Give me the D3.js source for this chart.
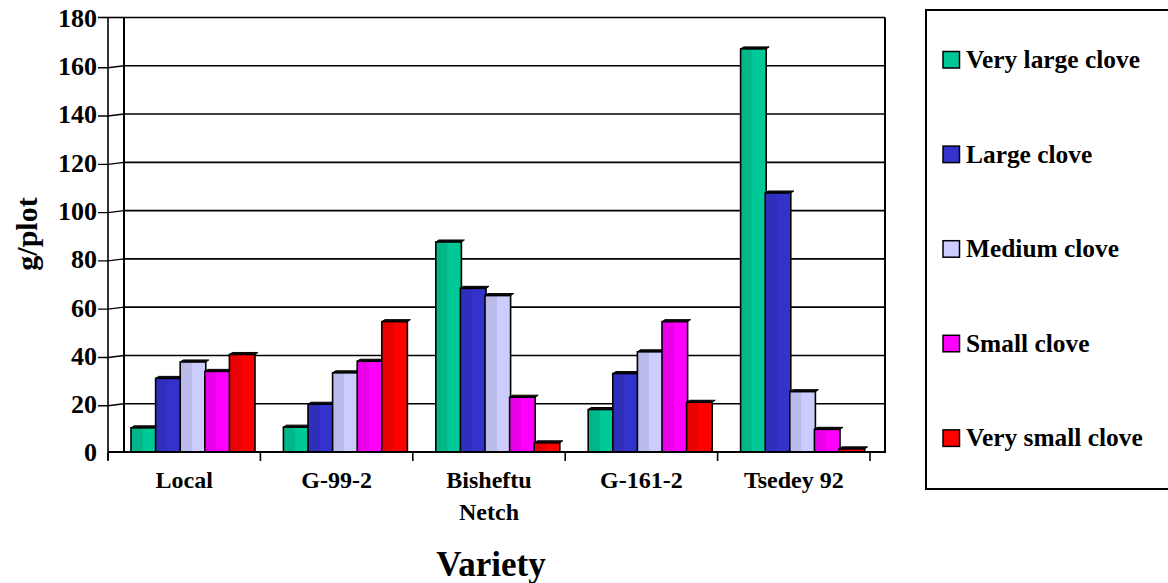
<!DOCTYPE html>
<html>
<head>
<meta charset="utf-8">
<script src="https://cdn.jsdelivr.net/npm/d3@7"></script>
<style>
  html, body { margin: 0; padding: 0; background: #fff; }
  svg { display: block; }
</style>
</head>
<body>
<svg id="chart" width="1168" height="583" font-family="Liberation Serif, serif" font-weight="bold"></svg>
<script>
const categories = ["Local", "G-99-2", "Bisheftu Netch", "G-161-2", "Tsedey 92"];
const seriesNames = ["Very large clove", "Large clove", "Medium clove", "Small clove", "Very small clove"];
const seriesColors = ["#00C896", "#3333CC", "#CCCCFF", "#FF00FF", "#FF0000"];
const veryLarge = [10, 10.3, 87, 17.6, 167];
const large = [30.5, 19.8, 67.8, 32.5, 107.3];
const medium = [37.3, 32.8, 64.8, 41.5, 25];
const small = [33.4, 37.6, 22.7, 54, 9.4];
const verySmall = [40.4, 54, 3.8, 20.6, 1.3];
const yTicks = [0, 20, 40, 60, 80, 100, 120, 140, 160, 180];

const seriesValues = [veryLarge, large, medium, small, verySmall];
const FONT = "Liberation Serif";

const svg = d3.select("#chart");
const frontLeft = 108, frontRight = 870, depthX = 16, depthY = 2;
const plotTop = 17.5, plotBottom = 452;

const x = d3.scaleBand().domain(categories).range([frontLeft, frontRight]).padding(0);
const xi = d3.scaleBand().domain(seriesNames).range([23, 146]).padding(0);
const y = d3.scaleLinear().domain([0, 180]).range([plotBottom, plotTop]);

// gradients
const defs = svg.append("defs");
seriesColors.forEach((c, i) => {
  const g = defs.append("linearGradient").attr("id", "g" + i).attr("x1", 0).attr("x2", 1).attr("y1", 0).attr("y2", 0);
  const dark = d3.color(c).darker(0.25);
  g.append("stop").attr("offset", "0%").attr("stop-color", dark);
  g.append("stop").attr("offset", "45%").attr("stop-color", dark);
  g.append("stop").attr("offset", "46%").attr("stop-color", c);
  g.append("stop").attr("offset", "100%").attr("stop-color", c);
});

// back wall gridlines
svg.append("g").selectAll("line").data(yTicks.filter(d => d > 0)).join("line")
  .attr("x1", frontLeft + depthX).attr("x2", frontRight + depthX - 1)
  .attr("y1", d => y(d)).attr("y2", d => y(d))
  .attr("stroke", "#000").attr("stroke-width", 1.6);

// left wall vertical and right border
svg.append("line").attr("x1", frontLeft + depthX).attr("x2", frontLeft + depthX)
  .attr("y1", plotTop).attr("y2", plotBottom).attr("stroke", "#000").attr("stroke-width", 2);
svg.append("line").attr("x1", frontRight + depthX - 1).attr("x2", frontRight + depthX - 1)
  .attr("y1", plotTop).attr("y2", plotBottom).attr("stroke", "#000").attr("stroke-width", 2);
// front vertical axis
svg.append("line").attr("x1", frontLeft).attr("x2", frontLeft)
  .attr("y1", plotTop).attr("y2", plotBottom + 8).attr("stroke", "#000").attr("stroke-width", 1.6);
// top line extension
svg.append("line").attr("x1", 98).attr("x2", frontLeft + depthX)
  .attr("y1", plotTop).attr("y2", plotTop).attr("stroke", "#000").attr("stroke-width", 1.6);

// y ticks (front) with slant to the wall
svg.append("g").selectAll("path").data(yTicks.filter(d => d > 0 && d < 180)).join("path")
  .attr("d", d => `M98,${y(d) + depthY}L${frontLeft},${y(d) + depthY}L${frontLeft + depthX},${y(d)}`)
  .attr("fill", "none").attr("stroke", "#000").attr("stroke-width", 1.4);

// bars
const groups = svg.append("g").selectAll("g").data(categories).join("g")
  .attr("transform", d => `translate(${x(d)},0)`);
seriesNames.forEach((s, si) => {
  groups.each(function(cat, ci) {
    const v = seriesValues[si][ci];
    const g = d3.select(this);
    const bx = xi(s), bw = xi.bandwidth() + 1;
    const by = y(v);
    g.append("polygon")
      .attr("points", `${bx},${by} ${bx + 3},${by - 2} ${bx + bw + 3},${by - 2} ${bx + bw},${by}`)
      .attr("fill", "#111").attr("stroke", "#000").attr("stroke-width", 1);
    g.append("rect")
      .attr("x", bx).attr("y", by).attr("width", bw).attr("height", plotBottom - by)
      .attr("fill", `url(#g${si})`).attr("stroke", "#000").attr("stroke-width", 1.6);
  });
});

// baseline
svg.append("line").attr("x1", frontLeft).attr("x2", frontRight + depthX)
  .attr("y1", plotBottom).attr("y2", plotBottom).attr("stroke", "#000").attr("stroke-width", 2.2);
// x ticks at group boundaries
const boundaries = categories.map(c => x(c)).concat([frontRight]);
svg.append("g").selectAll("line").data(boundaries).join("line")
  .attr("x1", d => d).attr("x2", d => d).attr("y1", plotBottom).attr("y2", plotBottom + 9)
  .attr("stroke", "#000").attr("stroke-width", 1.6);

// y axis labels
const yAxis = d3.axisLeft(y).tickValues(yTicks).tickSize(0).tickPadding(0);
const ya = svg.append("g").attr("transform", "translate(97,0)").call(yAxis)
  .attr("font-family", FONT).attr("font-size", 26);
ya.select(".domain").remove();
ya.selectAll("text").attr("font-family", FONT).attr("font-weight", "bold")
  .attr("fill", "#000").attr("dy", "0.34em");

// x labels
const xl = svg.append("g").selectAll("text").data(categories).join("text")
  .attr("x", d => x(d) + x.bandwidth() / 2).attr("y", 488)
  .attr("font-family", FONT).attr("font-weight", "bold")
  .attr("text-anchor", "middle").attr("font-size", 24);
xl.each(function(d) {
  const t = d3.select(this);
  if (d === "Bisheftu Netch") {
    t.append("tspan").attr("x", x(d) + x.bandwidth() / 2).text("Bisheftu");
    t.append("tspan").attr("x", x(d) + x.bandwidth() / 2).attr("dy", 32).text("Netch");
  } else t.text(d);
});

// axis titles
svg.append("text").attr("transform", "translate(37,234) rotate(-90)")
  .attr("font-family", FONT).attr("font-weight", "bold")
  .attr("text-anchor", "middle").attr("font-size", 30).text("g/plot");
svg.append("text").attr("x", 491).attr("y", 576).attr("text-anchor", "middle")
  .attr("font-family", FONT).attr("font-weight", "bold")
  .attr("font-size", 35).text("Variety");

// legend
svg.append("rect").attr("x", 926).attr("y", 10).attr("width", 260).attr("height", 479)
  .attr("fill", "none").attr("stroke", "#000").attr("stroke-width", 2);
const lg = svg.append("g").selectAll("g").data(seriesNames).join("g")
  .attr("transform", (d, i) => `translate(943,${68 + i * 94.6})`);
lg.append("rect").attr("x", 0).attr("y", -16.5).attr("width", 16.5).attr("height", 16.5)
  .attr("fill", (d, i) => seriesColors[i]).attr("stroke", "#000").attr("stroke-width", 1.5);
lg.append("text").attr("x", 23).attr("y", 0).attr("font-size", 25.4)
  .attr("font-family", FONT).attr("font-weight", "bold").text(d => d);
</script>
</body>
</html>
